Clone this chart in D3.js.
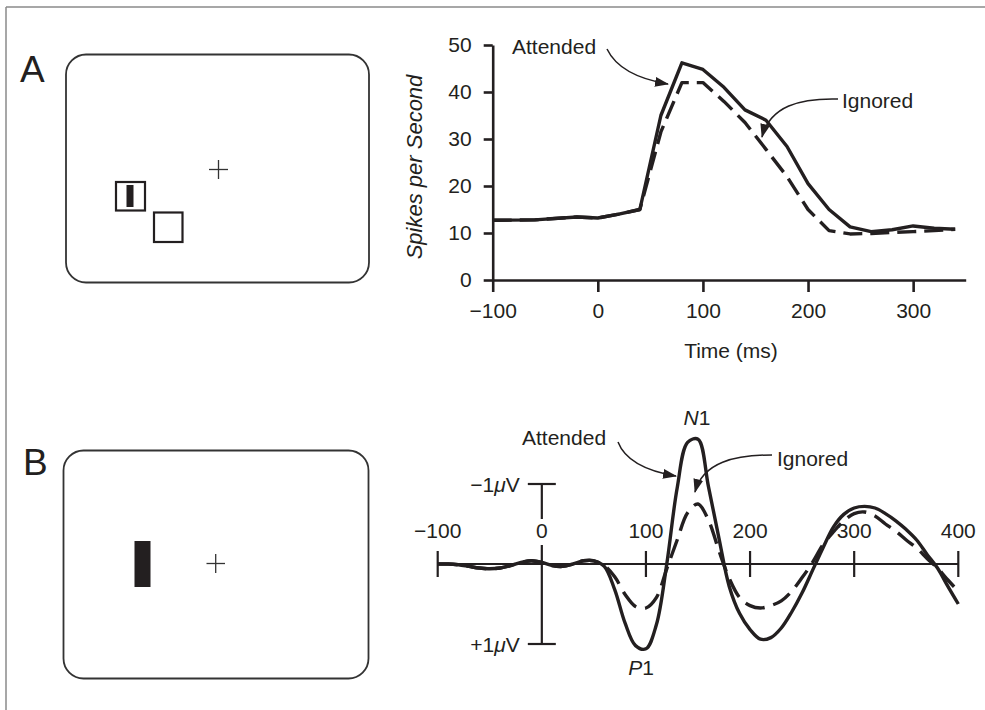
<!DOCTYPE html>
<html>
<head>
<meta charset="utf-8">
<script src="https://cdn.jsdelivr.net/npm/d3@7"></script>
<style>
  html, body { margin: 0; padding: 0; background: #fff; }
  svg { display: block; }
  text { font-family: "Liberation Sans", Arial, Helvetica, sans-serif; fill: #231f20; }
</style>
</head>
<body>
<svg id="fig" width="985" height="710"></svg>
<script>
// ---------------- Data ----------------
// Panel A: single-unit firing rate (spikes/s) vs time (ms)
const timesA = [-100, -60, -20, 0, 20, 40, 60, 80, 100, 120, 140, 160, 180, 200, 220, 240, 260, 280, 300, 320, 340];
const attendedA = [12.7, 12.8, 13.4, 13.2, 14.0, 15.0, 35.0, 46.2, 44.8, 41.0, 36.2, 34.0, 28.4, 20.5, 15.0, 11.3, 10.3, 10.7, 11.5, 11.0, 10.8];
const ignoredA  = [12.7, 12.8, 13.4, 13.2, 14.0, 15.0, 31.5, 42.0, 42.0, 38.0, 33.5, 27.8, 22.0, 15.0, 10.5, 9.8, 9.9, 10.1, 10.3, 10.5, 10.8];
const yTicksA = [0, 10, 20, 30, 40, 50];
const xTicksA = [-100, 0, 100, 200, 300];

// Panel B: ERP amplitude (µV, negative plotted up) vs time (ms)
const timesB = [-100, -90, -80, -70, -60, -50, -40, -30, -20, -10, 0, 10, 20, 30, 40, 50, 60, 70, 80, 90, 100,
  110, 120, 130, 140, 150, 160, 170, 180, 190, 200, 210, 220, 230, 240, 250, 260, 270, 280, 290, 300,
  310, 320, 330, 340, 350, 360, 370, 380, 390, 400];
const attendedB = [0, 0.0, 0.01, 0.03, 0.05, 0.06, 0.05, 0.02, -0.02, -0.04, -0.02, 0.02, 0.03, 0.0, -0.04, -0.04, 0.03, 0.32, 0.74, 1.02, 1.06,
  0.76, 0.0, -0.95, -1.52, -1.56, -0.97, -0.33, 0.28, 0.62, 0.82, 0.94, 0.92, 0.8, 0.6, 0.36, 0.08, -0.2, -0.46, -0.62, -0.7,
  -0.72, -0.7, -0.63, -0.54, -0.43, -0.3, -0.12, 0.05, 0.28, 0.5];
const ignoredB = [0, 0.0, 0.01, 0.03, 0.05, 0.06, 0.05, 0.02, -0.02, -0.04, -0.02, 0.02, 0.03, 0.0, -0.04, -0.04, 0.02, 0.16, 0.38, 0.53, 0.55,
  0.42, 0.06, -0.3, -0.64, -0.75, -0.55, -0.17, 0.18, 0.42, 0.52, 0.55, 0.52, 0.46, 0.34, 0.17, -0.02, -0.24, -0.4, -0.54, -0.63,
  -0.65, -0.6, -0.5, -0.41, -0.3, -0.2, -0.07, 0.05, 0.2, 0.34];
const xTicksB = [-100, 0, 100, 200, 300, 400];
const scaleBarB = [-1, 1];

// ---------------- Drawing ----------------
const svg = d3.select("#fig");
svg.append("rect").attr("width", 985).attr("height", 710).attr("fill", "#fff");

const defs = svg.append("defs");
defs.append("marker")
  .attr("id", "arrow")
  .attr("viewBox", "0 0 14 10")
  .attr("refX", 13).attr("refY", 5)
  .attr("markerWidth", 14).attr("markerHeight", 10)
  .attr("markerUnits", "userSpaceOnUse")
  .attr("orient", "auto")
  .append("path").attr("d", "M0,0 L14,5 L0,10 Z").attr("fill", "#231f20");

// Figure frame (top and left rules)
svg.append("line").attr("x1", 6).attr("y1", 7).attr("x2", 985).attr("y2", 7).attr("stroke", "#8a8a8a").attr("stroke-width", 1.5);
svg.append("line").attr("x1", 6).attr("y1", 7).attr("x2", 6).attr("y2", 710).attr("stroke", "#8a8a8a").attr("stroke-width", 1.5);

// Panel letters
svg.append("text").attr("x", 20).attr("y", 82).attr("font-size", 37).text("A");
svg.append("text").attr("x", 23).attr("y", 475).attr("font-size", 37).text("B");

// ---- Stimulus display A ----
const stimA = svg.append("g");
stimA.append("rect").attr("x", 66).attr("y", 54.5).attr("width", 303).attr("height", 228).attr("rx", 20)
  .attr("fill", "none").attr("stroke", "#333").attr("stroke-width", 1.8);
stimA.append("line").attr("x1", 209).attr("x2", 228).attr("y1", 169.5).attr("y2", 169.5).attr("stroke", "#333").attr("stroke-width", 1.3);
stimA.append("line").attr("x1", 218.5).attr("x2", 218.5).attr("y1", 160).attr("y2", 179).attr("stroke", "#333").attr("stroke-width", 1.3);
stimA.append("rect").attr("x", 116).attr("y", 182).attr("width", 29).attr("height", 28.5).attr("fill", "none").attr("stroke", "#231f20").attr("stroke-width", 2.2);
stimA.append("rect").attr("x", 126.5).attr("y", 185).attr("width", 7).attr("height", 22).attr("fill", "#231f20");
stimA.append("rect").attr("x", 154).attr("y", 212.5).attr("width", 28.5).attr("height", 29.5).attr("fill", "none").attr("stroke", "#231f20").attr("stroke-width", 2.2);

// ---- Stimulus display B ----
const stimB = svg.append("g");
stimB.append("rect").attr("x", 63.5).attr("y", 450.5).attr("width", 305).attr("height", 228).attr("rx", 20)
  .attr("fill", "none").attr("stroke", "#333").attr("stroke-width", 1.8);
stimB.append("line").attr("x1", 206.5).attr("x2", 225).attr("y1", 563.5).attr("y2", 563.5).attr("stroke", "#333").attr("stroke-width", 1.3);
stimB.append("line").attr("x1", 215.7).attr("x2", 215.7).attr("y1", 554).attr("y2", 573).attr("stroke", "#333").attr("stroke-width", 1.3);
stimB.append("rect").attr("x", 134.5).attr("y", 541).attr("width", 16).attr("height", 46).attr("fill", "#231f20");

// ---- Panel A chart ----
const xA = d3.scaleLinear().domain([-100, 350]).range([492.7, 965.7]);
const yA = d3.scaleLinear().domain([0, 50]).range([280, 45]);

const gAx = svg.append("g").attr("transform", `translate(0,${yA(0)})`)
  .call(d3.axisBottom(xA).tickValues(xTicksA).tickSizeInner(12).tickSizeOuter(0).tickPadding(10));
const gAy = svg.append("g").attr("transform", `translate(${xA(-100)},0)`)
  .call(d3.axisLeft(yA).tickValues(yTicksA).tickSizeInner(9).tickSizeOuter(0).tickPadding(12));
[gAx, gAy].forEach(g => {
  g.selectAll("path.domain").attr("stroke", "#231f20").attr("stroke-width", 2.6);
  g.selectAll(".tick line").attr("stroke", "#231f20").attr("stroke-width", 2.6);
  g.selectAll(".tick text").attr("font-size", 21).attr("fill", "#231f20")
    .attr("font-family", '"Liberation Sans", Arial, sans-serif');
});
gAx.selectAll(".tick text").attr("dy", "0.75em");

svg.append("text").attr("x", 731).attr("y", 358).attr("text-anchor", "middle").attr("font-size", 21).text("Time (ms)");
svg.append("text").attr("transform", "translate(422,167) rotate(-90)").attr("text-anchor", "middle")
  .attr("font-size", 22).attr("font-style", "italic").text("Spikes per Second");

const lineA = d3.line().x((d, i) => xA(timesA[i])).y(d => yA(d));
svg.append("path").datum(ignoredA).attr("d", lineA).attr("fill", "none")
  .attr("stroke", "#231f20").attr("stroke-width", 3.4).attr("stroke-dasharray", "19,8").attr("stroke-linejoin", "round");
svg.append("path").datum(attendedA).attr("d", lineA).attr("fill", "none")
  .attr("stroke", "#231f20").attr("stroke-width", 3.4).attr("stroke-linejoin", "round");

// Labels + arrows A
svg.append("text").attr("x", 512).attr("y", 54).attr("font-size", 21).text("Attended");
svg.append("path").attr("d", "M607,49 Q620,76 668,84").attr("fill", "none").attr("stroke", "#231f20")
  .attr("stroke-width", 1.5).attr("marker-end", "url(#arrow)");
svg.append("text").attr("x", 842).attr("y", 108).attr("font-size", 21).text("Ignored");
svg.append("path").attr("d", "M838,99 C800,98 770,106 762,137").attr("fill", "none").attr("stroke", "#231f20")
  .attr("stroke-width", 1.5).attr("marker-end", "url(#arrow)");

// ---- Panel B chart ----
const xB = d3.scaleLinear().domain([-100, 400]).range([437.7, 958.3]);
const yB = d3.scaleLinear().domain([-1, 1]).range([484, 644]);
const y0 = yB(0);

const gB = svg.append("g");
gB.append("line").attr("x1", xB(-100)).attr("x2", xB(400)).attr("y1", y0).attr("y2", y0)
  .attr("stroke", "#231f20").attr("stroke-width", 2.2);
gB.selectAll("line.tk").data(xTicksB.filter(t => t !== 0)).enter().append("line").attr("class", "tk")
  .attr("x1", d => xB(d)).attr("x2", d => xB(d)).attr("y1", y0 - 13).attr("y2", y0 + 13)
  .attr("stroke", "#231f20").attr("stroke-width", 2.2);

// scale bar
gB.append("line").attr("x1", xB(0)).attr("x2", xB(0)).attr("y1", yB(scaleBarB[0])).attr("y2", yB(scaleBarB[1]))
  .attr("stroke", "#231f20").attr("stroke-width", 2.2);
scaleBarB.forEach(v => {
  gB.append("line").attr("x1", xB(0) - 14).attr("x2", xB(0) + 14).attr("y1", yB(v)).attr("y2", yB(v))
    .attr("stroke", "#231f20").attr("stroke-width", 2.2);
  const t = gB.append("text").attr("x", xB(0) - 22).attr("y", yB(v) + 8).attr("text-anchor", "end").attr("font-size", 21);
  t.append("tspan").text((v < 0 ? "\u2212" : "+") + Math.abs(v));
  t.append("tspan").attr("font-style", "italic").text("\u03bc");
  t.append("tspan").text("V");
});

// tick labels (with white knock-out behind the "0" on the scale bar)
xTicksB.forEach(d => {
  if (d === 0) {
    gB.append("rect").attr("x", xB(d) - 8).attr("y", y0 - 45).attr("width", 16).attr("height", 26).attr("fill", "#fff");
  }
  gB.append("text").attr("x", xB(d)).attr("y", y0 - 26).attr("text-anchor", "middle").attr("font-size", 21)
    .text(d3.format("")(d).replace("-", "\u2212"));
});

const lineB = d3.line().x((d, i) => xB(timesB[i])).y(d => yB(d)).curve(d3.curveCatmullRom.alpha(0.5));
svg.append("path").datum(ignoredB).attr("d", lineB).attr("fill", "none")
  .attr("stroke", "#231f20").attr("stroke-width", 3.4).attr("stroke-dasharray", "20,9");
svg.append("path").datum(attendedB).attr("d", lineB).attr("fill", "none")
  .attr("stroke", "#231f20").attr("stroke-width", 3.4);

// Labels B
const n1 = svg.append("text").attr("x", 697).attr("y", 425).attr("text-anchor", "middle").attr("font-size", 21);
n1.append("tspan").attr("font-style", "italic").text("N");
n1.append("tspan").text("1");
const p1 = svg.append("text").attr("x", 641).attr("y", 675).attr("text-anchor", "middle").attr("font-size", 21);
p1.append("tspan").attr("font-style", "italic").text("P");
p1.append("tspan").text("1");

svg.append("text").attr("x", 522).attr("y", 445).attr("font-size", 21).text("Attended");
svg.append("path").attr("d", "M618,442 Q628,468 676,476").attr("fill", "none").attr("stroke", "#231f20")
  .attr("stroke-width", 1.5).attr("marker-end", "url(#arrow)");
svg.append("text").attr("x", 777).attr("y", 466).attr("font-size", 21).text("Ignored");
svg.append("path").attr("d", "M772,455 C735,455 703,462 695,492").attr("fill", "none").attr("stroke", "#231f20")
  .attr("stroke-width", 1.5).attr("marker-end", "url(#arrow)");
</script>
</body>
</html>
